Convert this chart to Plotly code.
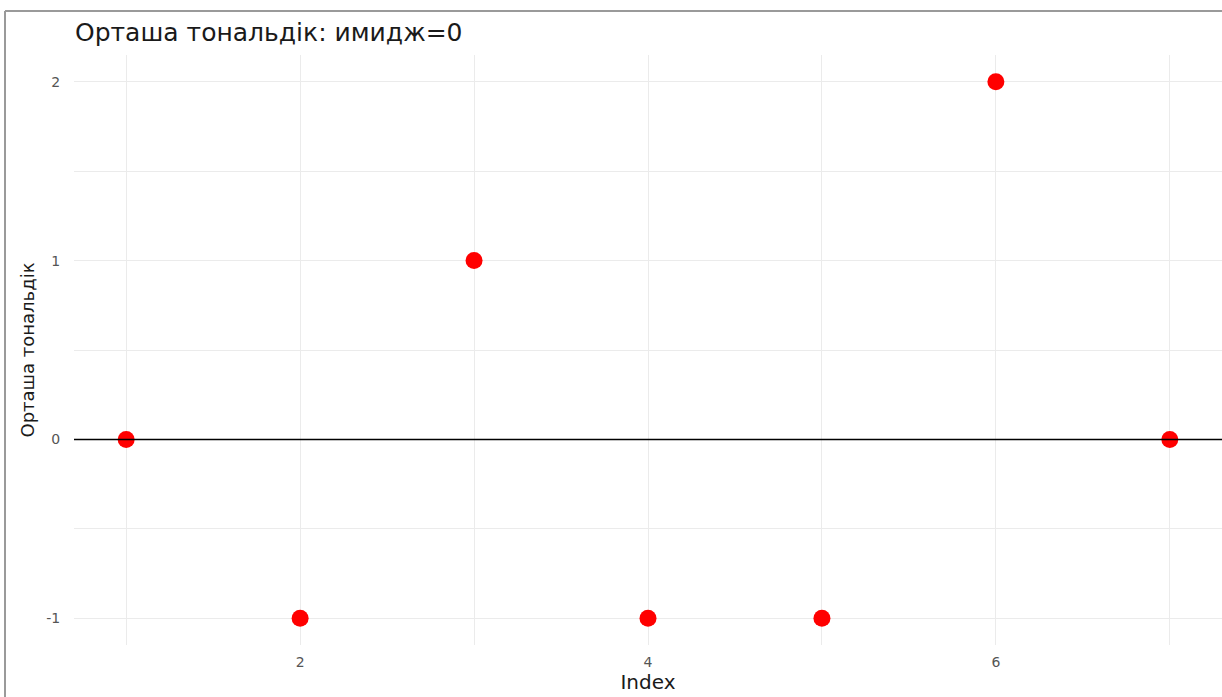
import plotly.graph_objects as go

# Mean tonality per index, image=0
index_vals = [1, 2, 3, 4, 5, 6, 7]
tonality = [0, -1, 1, -1, -1, 2, 0]

x_major = [2, 4, 6]
x_minor = [1, 3, 5, 7]
y_major = [-1, 0, 1, 2]
y_minor = [-0.5, 0.5, 1.5]

title_text = "Орташа тональдік: имидж=0"
x_title = "Index"
y_title = "Орташа тональдік"

grid = "#ebebeb"
tick_col = "#555555"
sans = "DejaVu Sans, Liberation Sans, Arial"

fig = go.Figure()
fig.add_trace(go.Scatter(
    x=index_vals, y=tonality, mode="markers",
    marker=dict(color="#ff0000", size=17, line=dict(width=0)),
    hoverinfo="x+y", showlegend=False,
))

# Reference line at zero, drawn over the points
fig.add_hline(y=0, line=dict(color="black", width=1.5), layer="above")

# Outer frame lines (top and left)
fig.add_shape(type="line", xref="paper", yref="paper",
              x0=-0.0601, x1=1.01, y0=1.0746, y1=1.0746,
              line=dict(color="#9a9a9a", width=2))
fig.add_shape(type="line", xref="paper", yref="paper",
              x0=-0.0601, x1=-0.0601, y0=1.0746, y1=-0.1,
              line=dict(color="#9a9a9a", width=2))

fig.update_layout(
    width=1222, height=697,
    margin=dict(l=74, r=0, t=55, b=52),
    paper_bgcolor="white", plot_bgcolor="white",
    font=dict(family=sans, color=tick_col),
    title=dict(text=title_text, xref="container", yref="container",
               x=75 / 1222, xanchor="left", y=1 - 32 / 697, yanchor="middle",
               font=dict(size=25, color="#1a1a1a", family=sans)),
    xaxis=dict(
        range=[0.7, 7.3], tickvals=x_major, ticktext=[str(v) for v in x_major],
        showgrid=True, gridcolor=grid, gridwidth=1.2, zeroline=False,
        showline=False, ticks="outside", ticklen=4, tickcolor="rgba(0,0,0,0)",
        tickfont=dict(size=14, color=tick_col, family=sans),
        minor=dict(tickvals=x_minor, showgrid=True, gridcolor=grid, gridwidth=1),
        title=dict(text=x_title, standoff=2,
                   font=dict(size=20, color="#1a1a1a", family=sans)),
    ),
    yaxis=dict(
        range=[-1.15, 2.15], tickvals=y_major, ticktext=[str(v) for v in y_major],
        showgrid=True, gridcolor=grid, gridwidth=1.2, zeroline=False,
        showline=False, ticks="outside", ticklen=10, tickcolor="rgba(0,0,0,0)",
        tickfont=dict(size=14, color=tick_col, family=sans),
        minor=dict(tickvals=y_minor, showgrid=True, gridcolor=grid, gridwidth=1),
        title=dict(text=y_title, standoff=6,
                   font=dict(size=18, color="#1a1a1a", family=sans)),
    ),
)

fig.write_html("out.html")
